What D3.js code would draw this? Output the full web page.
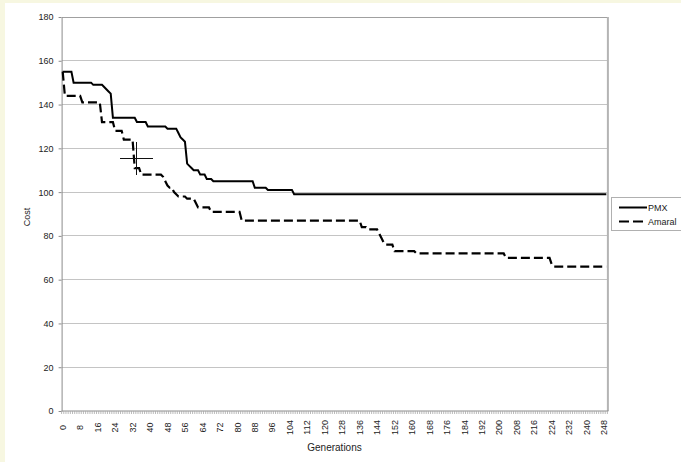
<!DOCTYPE html>
<html>
<head>
<meta charset="utf-8">
<script src="https://cdn.jsdelivr.net/npm/d3@7"></script>
<style>
  html, body { margin: 0; padding: 0; background: #f7f7e1; }
  svg { display: block; }
  text { font-family: "Liberation Sans", Arial, sans-serif; fill: #222; }
</style>
</head>
<body>
<svg id="chart" width="681" height="462"></svg>
<script>
// Generations (category axis) and tick labels
const generations = d3.range(250);
const xTickLabels = [0, 8, 16, 24, 32, 40, 48, 56, 64, 72, 80, 88, 96, 104, 112, 120, 128, 136, 144, 152, 160, 168, 176, 184, 192, 200, 208, 216, 224, 232, 240, 248];
const yTicks = [0, 20, 40, 60, 80, 100, 120, 140, 160, 180];

// Best cost per generation, PMX crossover
const pmx = [
  155,155,155,155,155,150,150,150,150,150,150,150,150,150,149,149,149,149,149,148,
  147,146,145,134,134,134,134,134,134,134,134,134,134,134,132,132,132,132,132,130,
  130,130,130,130,130,130,130,130,129,129,129,129,129,127,125,124,123,113,112,111,
  110,110,110,108,108,108,106,106,106,105,105,105,105,105,105,105,105,105,105,105,
  105,105,105,105,105,105,105,105,102,102,102,102,102,102,101,101,101,101,101,101,
  101,101,101,101,101,101, 99, 99, 99, 99, 99, 99, 99, 99, 99, 99, 99, 99, 99, 99,
   99, 99, 99, 99, 99, 99, 99, 99, 99, 99, 99, 99, 99, 99, 99, 99, 99, 99, 99, 99,
   99, 99, 99, 99, 99, 99, 99, 99, 99, 99, 99, 99, 99, 99, 99, 99, 99, 99, 99, 99,
   99, 99, 99, 99, 99, 99, 99, 99, 99, 99, 99, 99, 99, 99, 99, 99, 99, 99, 99, 99,
   99, 99, 99, 99, 99, 99, 99, 99, 99, 99, 99, 99, 99, 99, 99, 99, 99, 99, 99, 99,
   99, 99, 99, 99, 99, 99, 99, 99, 99, 99, 99, 99, 99, 99, 99, 99, 99, 99, 99, 99,
   99, 99, 99, 99, 99, 99, 99, 99, 99, 99, 99, 99, 99, 99, 99, 99, 99, 99, 99, 99,
   99, 99, 99, 99, 99, 99, 99, 99, 99, 99
];

// Best cost per generation, Amaral crossover
const amaral = [
  155,144,144,144,144,144,144,144,144,141,141,141,141,141,141,141,141,141,132,132,
  132,132,132,132,128,128,128,128,124,124,124,124,124,111,111,111,108,108,108,108,
  108,108,108,108,108,108,107,105,103,102,102,100, 99, 98, 98, 98, 98, 97, 97, 97,
   97, 95, 93, 93, 93, 93, 93, 93, 91, 91, 91, 91, 91, 91, 91, 91, 91, 91, 91, 91,
   91, 91, 87, 87, 87, 87, 87, 87, 87, 87, 87, 87, 87, 87, 87, 87, 87, 87, 87, 87,
   87, 87, 87, 87, 87, 87, 87, 87, 87, 87, 87, 87, 87, 87, 87, 87, 87, 87, 87, 87,
   87, 87, 87, 87, 87, 87, 87, 87, 87, 87, 87, 87, 87, 87, 87, 87, 87, 84, 84, 84,
   83, 83, 83, 83, 83, 81, 79, 77, 76, 76, 76, 76, 73, 73, 73, 73, 73, 73, 73, 73,
   73, 73, 72, 72, 72, 72, 72, 72, 72, 72, 72, 72, 72, 72, 72, 72, 72, 72, 72, 72,
   72, 72, 72, 72, 72, 72, 72, 72, 72, 72, 72, 72, 72, 72, 72, 72, 72, 72, 72, 72,
   72, 72, 72, 70, 70, 70, 70, 70, 70, 70, 70, 70, 70, 70, 70, 70, 70, 70, 70, 70,
   70, 70, 70, 70, 67, 66, 66, 66, 66, 66, 66, 66, 66, 66, 66, 66, 66, 66, 66, 66,
   66, 66, 66, 66, 66, 66, 66, 66, 66, 66
];

const seriesNames = ["PMX", "Amaral"];

const svg = d3.select("#chart");
const W = 681, H = 462;
const plot = { left: 61.6, right: 607.4, top: 17, bottom: 411 };

// Page panel
svg.append("rect").attr("x", 0).attr("y", 0).attr("width", W).attr("height", H).attr("fill", "#f7f7e1");
svg.append("rect").attr("x", 5).attr("y", 3).attr("width", W - 5).attr("height", H - 3).attr("fill", "#ffffff");

const x = d3.scaleBand().domain(generations).range([plot.left, plot.right]).padding(0);
const xc = g => x(g) + x.bandwidth() / 2;
const y = d3.scaleLinear().domain([0, 180]).range([plot.bottom, plot.top]);

// Horizontal gridlines
svg.append("g").selectAll("line")
  .data(yTicks.filter(v => v > 0))
  .join("line")
  .attr("x1", plot.left).attr("x2", plot.right)
  .attr("y1", d => y(d)).attr("y2", d => y(d))
  .attr("stroke", d => d === 180 ? "#a0a0a0" : "#c4c4c4")
  .attr("stroke-width", 1)
  .attr("shape-rendering", "crispEdges");

// Right border of the plot area
svg.append("line")
  .attr("x1", plot.right + 0.5).attr("x2", plot.right + 0.5)
  .attr("y1", plot.top).attr("y2", plot.bottom)
  .attr("stroke", "#b4b4b4").attr("stroke-width", 2);

// Y axis
const yAxis = svg.append("g")
  .attr("transform", `translate(${plot.left},0)`)
  .call(d3.axisLeft(y).tickValues(yTicks).tickSize(3).tickPadding(5).tickSizeOuter(0));
yAxis.select(".domain").attr("stroke", "#8c8c8c");
yAxis.selectAll(".tick line").attr("stroke", "#8c8c8c");
yAxis.selectAll("text").attr("font-size", 9).attr("font-family", "Liberation Sans, Arial, sans-serif").attr("fill", "#222");

// X axis baseline with a small tick between every generation
const xAxis = svg.append("g").attr("transform", `translate(0,${plot.bottom})`);
xAxis.append("line")
  .attr("x1", plot.left).attr("x2", plot.right + 1)
  .attr("y1", 0).attr("y2", 0)
  .attr("stroke", "#8c8c8c");
xAxis.selectAll("line.minor")
  .data(generations.concat([generations.length]))
  .join("line")
  .attr("class", "minor")
  .attr("x1", g => g < generations.length ? x(g) : plot.right)
  .attr("x2", g => g < generations.length ? x(g) : plot.right)
  .attr("y1", 0).attr("y2", 3)
  .attr("stroke", "#a8a8a8").attr("stroke-width", 0.8);

// X tick labels, rotated
xAxis.selectAll("text.xl")
  .data(xTickLabels)
  .join("text")
  .attr("class", "xl")
  .attr("transform", d => `translate(${xc(d)},16.5) rotate(-90)`)
  .attr("text-anchor", "middle")
  .attr("dy", "0.35em")
  .attr("font-size", 9)
  .text(d => d);

// Axis titles
svg.append("text")
  .attr("transform", `translate(27,217) rotate(-90)`)
  .attr("text-anchor", "middle")
  .attr("dy", "0.35em")
  .attr("font-size", 9)
  .text("Cost");
svg.append("text")
  .attr("x", 334.5).attr("y", 447)
  .attr("text-anchor", "middle")
  .attr("dy", "0.35em")
  .attr("font-size", 10)
  .text("Generations");

// Series lines
const line = d3.line().x((d, i) => xc(generations[i])).y(d => y(d));
svg.append("path").datum(pmx)
  .attr("d", line)
  .attr("fill", "none").attr("stroke", "#000").attr("stroke-width", 2)
  .attr("stroke-linejoin", "miter");
svg.append("path").datum(amaral)
  .attr("d", line)
  .attr("fill", "none").attr("stroke", "#000").attr("stroke-width", 2.2)
  .attr("stroke-dasharray", "9,4");

// Cross-hair marker
const cross = svg.append("g").attr("stroke", "#111").attr("stroke-width", 1);
cross.append("line").attr("x1", 120).attr("x2", 153).attr("y1", 158.5).attr("y2", 158.5);
cross.append("line").attr("x1", 136.5).attr("x2", 136.5).attr("y1", 142).attr("y2", 175);

// Legend
const legend = svg.append("g");
legend.append("rect")
  .attr("x", 611.5).attr("y", 197.5).attr("width", 80).attr("height", 33)
  .attr("fill", "#fff").attr("stroke", "#b0b0b0");
const dashes = [null, "10,4"];
seriesNames.forEach((name, i) => {
  const ly = 207.5 + i * 14;
  legend.append("line")
    .attr("x1", 619).attr("x2", 647).attr("y1", ly).attr("y2", ly)
    .attr("stroke", "#000").attr("stroke-width", 2)
    .attr("stroke-dasharray", dashes[i]);
  legend.append("text")
    .attr("x", 648).attr("y", ly).attr("dy", "0.35em")
    .attr("font-size", 9)
    .text(name);
});
</script>
</body>
</html>
